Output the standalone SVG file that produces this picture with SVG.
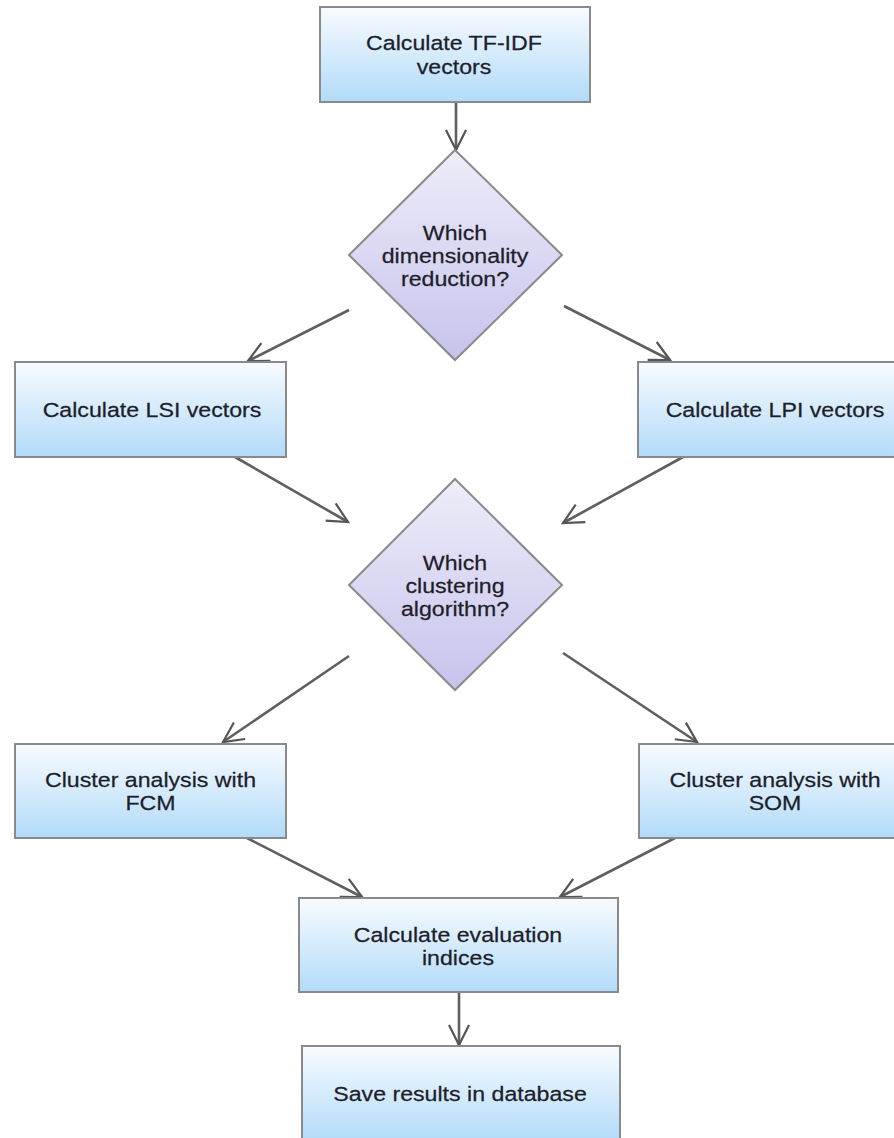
<svg xmlns="http://www.w3.org/2000/svg" width="894" height="1138" viewBox="0 0 894 1138">
<defs>
<linearGradient id="gBox" x1="0" y1="0" x2="0" y2="1">
<stop offset="0" stop-color="#f8fbff"/>
<stop offset="1" stop-color="#b2dbf9"/>
</linearGradient>
<linearGradient id="gDia" x1="0" y1="0" x2="0" y2="1">
<stop offset="0" stop-color="#eeedf9"/>
<stop offset="1" stop-color="#c6c3ec"/>
</linearGradient>
<marker id="arr" markerUnits="userSpaceOnUse" markerWidth="30" markerHeight="30" viewBox="-25 -15 30 30" refX="0" refY="0" orient="auto">
<path d="M-20,-10 L0,0 L-20,10" fill="none" stroke="#555" stroke-width="2.2"/>
</marker>
<style>
.box{fill:url(#gBox);stroke:#8a8a8a;stroke-width:2}
.dia{fill:url(#gDia);stroke:#8a8a8a;stroke-width:2}
.t{font-family:"Liberation Sans",Arial,sans-serif;font-size:20.5px;fill:#1e1e2a;text-anchor:middle;stroke:#1e1e2a;stroke-width:0.25}
.c{stroke:#5f5f5f;stroke-width:2.6;fill:none;marker-end:url(#arr)}
</style>
</defs>
<rect width="894" height="1138" fill="#ffffff"/>
<g id="connectors">
<line class="c" x1="456" y1="102" x2="456" y2="150"/>
<line class="c" x1="349" y1="310" x2="248" y2="361"/>
<line class="c" x1="564" y1="306" x2="670" y2="360"/>
<line class="c" x1="235" y1="457" x2="348" y2="522"/>
<line class="c" x1="683" y1="457" x2="563" y2="523"/>
<line class="c" x1="349" y1="656" x2="223" y2="742"/>
<line class="c" x1="563" y1="653" x2="697" y2="742"/>
<line class="c" x1="247" y1="838" x2="362" y2="897"/>
<line class="c" x1="675" y1="838" x2="560" y2="897"/>
<line class="c" x1="459" y1="992" x2="459" y2="1045"/>
</g>
<g id="tfidf">
<rect class="box" x="320" y="7" width="270" height="95"/>
<text class="t" transform="translate(454,50) scale(1.13,1)">Calculate TF-IDF</text>
<text class="t" transform="translate(454,74) scale(1.13,1)">vectors</text>
</g>
<g id="dimred">
<polygon class="dia" points="455,150 562,255 455,360 349,255"/>
<text class="t" transform="translate(455,240) scale(1.13,1)">Which</text>
<text class="t" transform="translate(455,263) scale(1.13,1)">dimensionality</text>
<text class="t" transform="translate(455,286) scale(1.13,1)">reduction?</text>
</g>
<g id="lsi">
<rect class="box" x="15" y="362" width="271" height="95"/>
<text class="t" transform="translate(152,417) scale(1.13,1)">Calculate LSI vectors</text>
</g>
<g id="lpi">
<rect class="box" x="638" y="362" width="271" height="95"/>
<text class="t" transform="translate(775,417) scale(1.13,1)">Calculate LPI vectors</text>
</g>
<g id="clustering">
<polygon class="dia" points="455,479 562,585 455,690 349,585"/>
<text class="t" transform="translate(455,570) scale(1.13,1)">Which</text>
<text class="t" transform="translate(455,593) scale(1.13,1)">clustering</text>
<text class="t" transform="translate(455,616) scale(1.13,1)">algorithm?</text>
</g>
<g id="fcm">
<rect class="box" x="15" y="744" width="271" height="94"/>
<text class="t" transform="translate(150.5,787) scale(1.13,1)">Cluster analysis with</text>
<text class="t" transform="translate(150.5,810) scale(1.13,1)">FCM</text>
</g>
<g id="som">
<rect class="box" x="639" y="744" width="271" height="94"/>
<text class="t" transform="translate(775,787) scale(1.13,1)">Cluster analysis with</text>
<text class="t" transform="translate(775,810) scale(1.13,1)">SOM</text>
</g>
<g id="eval">
<rect class="box" x="299" y="898" width="319" height="94"/>
<text class="t" transform="translate(458,942) scale(1.13,1)">Calculate evaluation</text>
<text class="t" transform="translate(458,965) scale(1.13,1)">indices</text>
</g>
<g id="save">
<rect class="box" x="302" y="1046" width="318" height="96"/>
<text class="t" transform="translate(460,1101) scale(1.13,1)">Save results in database</text>
</g>
</svg>
